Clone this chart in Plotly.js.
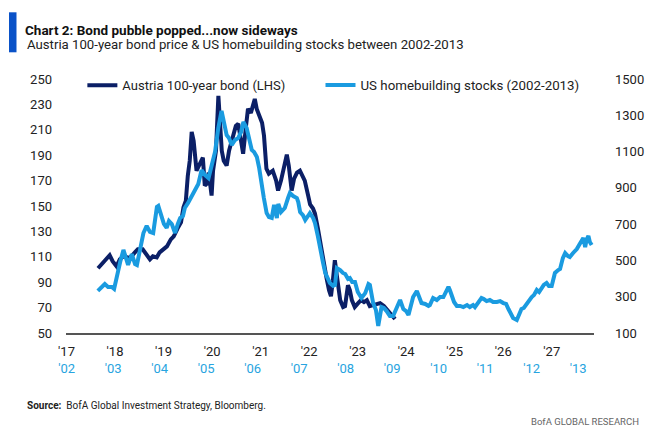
<!DOCTYPE html>
<html>
<head>
<meta charset="utf-8">
<script src="https://cdn.plot.ly/plotly-3.0.1.min.js"></script>
<style>html,body{margin:0;padding:0;background:#fff;}#chart{width:660px;height:432px;}</style>
</head>
<body>
<div id="chart"></div>
<script>
// Austria 100-year bond price (LHS), dated on the '17-'27 axis (decimal years)
const bondYears = [2017.65,2017.75,2017.83,2017.89,2017.95,2018.03,2018.10,2018.20,2018.26,2018.34,2018.41,2018.47,2018.57,2018.66,2018.72,2018.78,2018.86,2018.92,2018.99,2019.07,2019.15,2019.21,2019.29,2019.36,2019.41,2019.46,2019.50,2019.54,2019.58,2019.62,2019.68,2019.73,2019.81,2019.85,2019.89,2019.93,2019.99,2020.02,2020.08,2020.13,2020.16,2020.20,2020.24,2020.30,2020.35,2020.43,2020.49,2020.54,2020.59,2020.64,2020.70,2020.74,2020.80,2020.84,2020.88,2020.92,2020.99,2021.03,2021.07,2021.12,2021.17,2021.25,2021.32,2021.36,2021.42,2021.48,2021.54,2021.58,2021.64,2021.69,2021.75,2021.81,2021.87,2021.91,2021.98,2022.02,2022.08,2022.12,2022.18,2022.22,2022.29,2022.36,2022.41,2022.45,2022.49,2022.53,2022.57,2022.64,2022.70,2022.74,2022.80,2022.84,2022.88,2022.94,2023.01,2023.07,2023.13,2023.19,2023.25,2023.36,2023.46,2023.54,2023.62,2023.69,2023.77];
const bondPrice = [101.0,105.7,108.8,111.2,106.5,102.5,108.0,111.2,108.8,110.4,113.5,115.9,115.9,111.2,108.0,110.4,109.6,113.5,115.9,118.2,123.7,126.1,132.4,137.1,148.8,154.3,173.9,185.7,208.4,201.4,177.8,181.8,188.0,166.1,167.6,176.3,158.2,177.8,193.5,236.7,217.1,193.5,185.7,181.8,193.5,203.7,213.1,214.7,201.4,191.2,213.1,226.5,223.3,228.8,234.3,226.5,219.4,215.5,205.3,179.4,175.5,177.8,170.0,162.2,170.0,181.8,190.4,181.8,162.2,171.6,176.3,177.8,173.1,170.0,158.2,151.2,148.0,144.1,132.4,122.9,111.2,93.1,83.7,79.0,91.6,107.3,95.5,75.9,70.4,71.2,87.6,83.7,75.9,70.4,73.5,75.9,74.3,75.9,71.2,72.7,73.5,71.2,68.0,64.9,61.0];

// US homebuilding stocks (RHS), dated on the '02-'13 axis (decimal years)
const hbYears = [2002.67,2002.76,2002.82,2002.89,2002.97,2003.02,2003.08,2003.15,2003.22,2003.28,2003.32,2003.40,2003.47,2003.51,2003.58,2003.65,2003.72,2003.79,2003.86,2003.94,2003.97,2004.04,2004.09,2004.15,2004.20,2004.26,2004.33,2004.39,2004.44,2004.50,2004.54,2004.61,2004.69,2004.76,2004.83,2004.90,2004.97,2005.05,2005.10,2005.19,2005.26,2005.33,2005.38,2005.44,2005.49,2005.55,2005.62,2005.69,2005.75,2005.80,2005.87,2005.92,2005.98,2006.03,2006.09,2006.14,2006.19,2006.24,2006.30,2006.35,2006.41,2006.46,2006.52,2006.55,2006.61,2006.66,2006.69,2006.76,2006.80,2006.87,2006.95,2006.98,2007.02,2007.08,2007.13,2007.19,2007.23,2007.30,2007.34,2007.40,2007.45,2007.51,2007.56,2007.62,2007.66,2007.73,2007.77,2007.81,2007.88,2007.94,2007.99,2008.05,2008.09,2008.14,2008.20,2008.26,2008.34,2008.42,2008.49,2008.52,2008.59,2008.65,2008.70,2008.77,2008.82,2008.88,2008.95,2009.02,2009.10,2009.17,2009.24,2009.30,2009.35,2009.42,2009.45,2009.53,2009.58,2009.63,2009.71,2009.78,2009.81,2009.88,2009.96,2010.03,2010.10,2010.14,2010.21,2010.24,2010.28,2010.33,2010.39,2010.46,2010.53,2010.61,2010.67,2010.74,2010.78,2010.85,2010.92,2010.97,2011.03,2011.10,2011.17,2011.25,2011.32,2011.39,2011.45,2011.50,2011.56,2011.60,2011.68,2011.73,2011.78,2011.83,2011.89,2011.94,2012.00,2012.05,2012.11,2012.16,2012.22,2012.26,2012.32,2012.37,2012.43,2012.46,2012.50,2012.57,2012.61,2012.67,2012.72,2012.78,2012.82,2012.89,2012.97,2013.02,2013.08,2013.11,2013.15,2013.18,2013.22,2013.25,2013.29];
const hbIndex = [332,354,370,354,354,343,420,491,558,513,475,535,480,475,558,651,690,657,651,795,800,739,701,679,717,701,651,701,734,745,789,817,855,883,921,998,971,954,1009,1098,1230,1324,1263,1191,1175,1136,1164,1175,1208,1263,1230,1164,1109,1098,1070,1009,916,844,761,739,734,806,734,811,767,778,789,844,872,855,844,822,767,750,723,745,761,734,706,635,580,491,431,403,376,360,365,458,447,431,425,398,403,381,381,326,293,320,370,365,265,227,139,243,238,221,194,194,249,282,232,221,199,282,298,332,304,265,260,249,254,293,282,298,298,315,354,337,304,271,249,249,243,254,243,254,243,265,293,287,276,282,271,271,276,265,260,232,194,183,172,199,232,238,260,282,298,309,337,326,354,365,376,359,359,392,431,447,453,513,541,524,519,541,563,585,613,624,574,613,635,602,585];

// Tick labels
const bondTickVals = [2017,2018,2019,2020,2021,2022,2023,2024,2025,2026,2027];
const bondTickText = ["'17","'18","'19","'20","'21","'22","'23","'24","'25","'26","'27"];
const hbTickVals = [2002,2003,2004,2005,2006,2007,2008,2009,2010,2011,2012,2013];
const hbTickText = ["'02","'03","'04","'05","'06","'07","'08","'09","'10","'11","'12","'13"];

const seriesNames = ['Austria 100-year bond (LHS)', 'US homebuilding stocks (2002-2013)'];

const NAVY = '#0b1f66';
const LIGHT = '#1a9be0';
const FONT = 'Roboto, "Open Sans", Arial, sans-serif';

const traces = [
  {x: bondYears, y: bondPrice, xaxis: 'x', yaxis: 'y', type: 'scatter', mode: 'lines',
   name: seriesNames[0], line: {color: NAVY, width: 4}, legend: 'legend', showlegend: true},
  {x: hbYears, y: hbIndex, xaxis: 'x2', yaxis: 'y2', type: 'scatter', mode: 'lines',
   name: seriesNames[1], line: {color: LIGHT, width: 4}, legend: 'legend2', showlegend: true}
];

const layout = {
  width: 660, height: 432,
  showlegend: true,
  margin: {l: 66, r: 66, t: 79, b: 99},
  paper_bgcolor: '#fff', plot_bgcolor: '#fff',
  font: {family: FONT, size: 13, color: '#222'},
  title: {
    text: '<b>Chart 2: Bond pubble popped...now sideways</b>',
    font: {family: FONT, size: 13.5, color: '#111'},
    xref: 'container', x: 25/660, xanchor: 'left',
    yref: 'container', y: 1 - 30/432, yanchor: 'middle'
  },
  xaxis: {
    range: [2016.99, 2027.87], tickvals: bondTickVals, ticktext: bondTickText,
    showgrid: false, zeroline: false, ticks: '', showline: true, linecolor: '#555', linewidth: 2,
    tickfont: {family: FONT, size: 13, color: '#222'}, ticklabelstandoff: 5, fixedrange: true
  },
  xaxis2: {
    overlaying: 'x', anchor: 'y', side: 'bottom',
    range: [2001.985, 2013.34], tickvals: hbTickVals, ticktext: hbTickText,
    showgrid: false, zeroline: false, ticks: '', showline: false,
    tickfont: {family: FONT, size: 13, color: '#27a4e0'}, ticklabelstandoff: 26
  },
  yaxis: {
    range: [50, 250], tick0: 50, dtick: 20, showgrid: false, zeroline: false, ticks: '',
    showline: false, tickfont: {family: FONT, size: 13, color: '#222'}, ticklabelstandoff: 13
  },
  yaxis2: {
    overlaying: 'y', side: 'right', range: [100, 1500], tick0: 100, dtick: 200,
    showgrid: false, zeroline: false, ticks: '', showline: false,
    tickfont: {family: FONT, size: 13, color: '#222'}, ticklabelstandoff: 20
  },
  legend: {
    orientation: 'h', x: 0.031, xanchor: 'left', y: 0.975, yanchor: 'middle',
    bgcolor: 'rgba(0,0,0,0)', font: {family: FONT, size: 13, color: '#222'}, itemwidth: 30
  },
  legend2: {
    orientation: 'h', x: 0.482, xanchor: 'left', y: 0.975, yanchor: 'middle',
    bgcolor: 'rgba(0,0,0,0)', font: {family: FONT, size: 13.3, color: '#222'}, itemwidth: 30
  },
  shapes: [
    {type: 'rect', xref: 'paper', yref: 'paper',
     x0: (9-66)/528, x1: (16.5-66)/528, y0: 1 + (79-52.3)/254, y1: 1 + (79-12.3)/254,
     fillcolor: '#0a52c8', line: {width: 0}}
  ],
  annotations: [
    {text: 'Austria 100-year bond price &amp; US homebuilding stocks between 2002-2013',
     xref: 'paper', yref: 'paper', x: (25-66)/528, y: 1 + (79-44)/254,
     xanchor: 'left', yanchor: 'middle', showarrow: false,
     font: {family: FONT, size: 13.2, color: '#222'}},
    {text: '<b>Source:</b>  BofA Global Investment Strategy, Bloomberg.',
     xref: 'paper', yref: 'paper', x: (25-66)/528, y: (333-405)/254,
     xanchor: 'left', yanchor: 'middle', showarrow: false,
     font: {family: FONT, size: 10, color: '#222'}},
    {text: 'BofA GLOBAL RESEARCH',
     xref: 'paper', yref: 'paper', x: (641-66)/528, y: (333-421)/254,
     xanchor: 'right', yanchor: 'middle', showarrow: false,
     font: {family: FONT, size: 9.5, color: '#666'}}
  ]
};

Plotly.newPlot('chart', traces, layout, {displayModeBar: false, staticPlot: true});
</script>
</body>
</html>
